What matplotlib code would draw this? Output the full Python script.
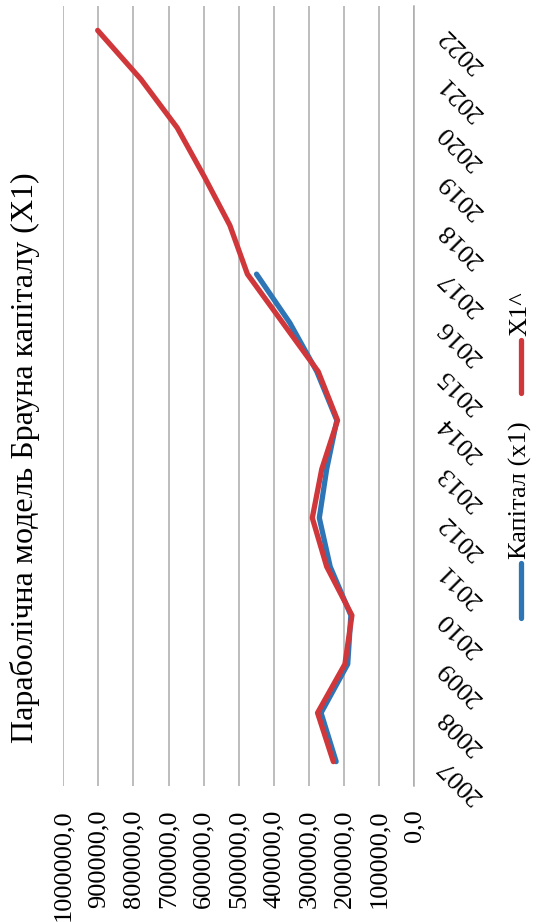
import numpy as np
import matplotlib
matplotlib.use('Agg')
import matplotlib.pyplot as plt
from matplotlib.lines import Line2D

plt.rcParams['font.family'] = ['Liberation Serif', 'DejaVu Serif']

years = [2007, 2008, 2009, 2010, 2011, 2012, 2013, 2014, 2015, 2016, 2017,
         2018, 2019, 2020, 2021, 2022]
capital_x1 = [222000, 265000, 189000, 180000, 239000, 270000, 249000, 220000,
              277000, 354000, 449000]
forecast_x1 = [230000, 275000, 197000, 177000, 249000, 290000, 263000, 218000,
               273000, 374000, 475000, 525000, 598000, 675000, 779000, 902000]
value_ticks = list(range(0, 1000001, 100000))

title = 'Параболічна модель Брауна капіталу (X1)'
label_capital = 'Капітал (x1)'
label_forecast = 'X1^'

blue = '#2E75B6'
red = '#D0373A'
grid_c = '#ABABAB'

W, H = 542, 922
fig = plt.figure(figsize=(W / 100, H / 100), dpi=100)

def fx(px):
    return px / W

def fy(py):
    return 1 - py / H

left, right, top, bottom = 63.3, 414, 6, 786
ax = fig.add_axes([fx(left), fy(bottom), fx(right - left), (bottom - top) / H])

idx = np.arange(len(years))
ax.plot(capital_x1, idx[:len(capital_x1)], color=blue, lw=3.8,
        solid_capstyle='round', solid_joinstyle='round', zorder=3)
ax.plot(forecast_x1, idx, color=red, lw=3.8,
        solid_capstyle='round', solid_joinstyle='round', zorder=4)

ax.set_xlim(1000000, 0)
ax.set_ylim(-0.5, len(years) - 0.5)

ax.set_xticks(value_ticks)
ax.set_xticklabels([f'{v:.1f}'.replace('.', ',') for v in value_ticks],
                   rotation=90, fontsize=19)
ax.tick_params(axis='x', length=0, pad=17)
ax.grid(axis='x', color=grid_c, lw=1.1)
ax.set_axisbelow(True)

ax.yaxis.tick_right()
ax.set_yticks(idx)
ax.set_yticklabels([str(y) for y in years], fontsize=19)
ax.tick_params(axis='y', length=0, pad=20)
for lab in ax.get_yticklabels():
    lab.set_rotation(135)
    lab.set_rotation_mode('anchor')
    lab.set_ha('right')
    lab.set_va('center')

for s in ['left', 'top', 'bottom']:
    ax.spines[s].set_visible(False)
ax.spines['right'].set_color(grid_c)
ax.spines['right'].set_linewidth(1.1)

fig.text(fx(33.5), fy(458), title, rotation=90, rotation_mode='anchor',
         ha='center', va='baseline', fontsize=23)

# legend (vertical, as in the rotated original)
lx = 520.7
fig.add_artist(Line2D([fx(lx), fx(lx)], [fy(563), fy(618)], color=blue, lw=3.8,
                      solid_capstyle='round'))
fig.text(fx(lx), fy(559), label_capital, rotation=90, rotation_mode='anchor',
         ha='left', va='center', fontsize=19)
fig.add_artist(Line2D([fx(lx), fx(lx)], [fy(340), fy(393)], color=red, lw=3.8,
                      solid_capstyle='round'))
fig.text(fx(lx), fy(336), label_forecast, rotation=90, rotation_mode='anchor',
         ha='left', va='center', fontsize=19)

fig.savefig('out.png', dpi=100)
